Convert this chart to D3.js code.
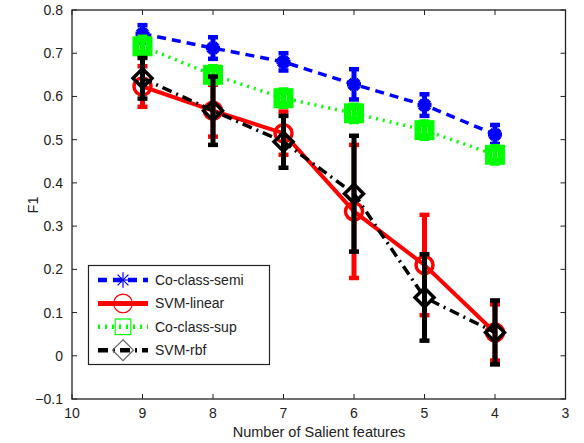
<!DOCTYPE html>
<html>
<head>
<meta charset="utf-8">
<script src="https://cdn.jsdelivr.net/npm/d3@7"></script>
<style>
  body { margin: 0; background: #fff; }
  text { font-family: "Liberation Sans", Arial, sans-serif; fill: #222; }
</style>
</head>
<body>
<svg id="chart" width="584" height="443"></svg>
<script>
// number of salient features (x, reversed axis)
const features = [9, 8, 7, 6, 5, 4]
const xTicks = [10, 9, 8, 7, 6, 5, 4, 3]
const yTicks = [-0.1, 0, 0.1, 0.2, 0.3, 0.4, 0.5, 0.6, 0.7, 0.8]

// F1 means and error half-widths
const coSemi = [0.745, 0.712, 0.680, 0.628, 0.580, 0.512]
const coSemiErr = [0.020, 0.025, 0.020, 0.035, 0.025, 0.022]
const svmLinear = [0.623, 0.567, 0.515, 0.334, 0.210, 0.054]
const svmLinearErr = [0.047, 0.060, 0.050, 0.154, 0.116, 0.065]
const coSup = [0.716, 0.650, 0.596, 0.561, 0.522, 0.465]
const coSupErr = [0.022, 0.020, 0.020, 0.020, 0.020, 0.020]
const svmRbf = [0.642, 0.567, 0.495, 0.375, 0.135, 0.054]
const svmRbfErr = [0.047, 0.079, 0.060, 0.134, 0.100, 0.074]

const series = [
    { name: 'Co-class-semi', values: coSemi, err: coSemiErr, color: '#0000ff', dash: '9,6', marker: 'star' },
    { name: 'SVM-linear', values: svmLinear, err: svmLinearErr, color: '#ff0000', dash: null, marker: 'circle', width: 4 },
    { name: 'Co-class-sup', values: coSup, err: coSupErr, color: '#00ff00', dash: '2,5', marker: 'square' },
    { name: 'SVM-rbf', values: svmRbf, err: svmRbfErr, color: '#000000', dash: '10,5,2,5', marker: 'diamond' },
]

const svg = d3.select('#chart')
const margin = { left: 72, right: 565.5, top: 10, bottom: 399 }

const x = d3.scaleLinear().domain([10, 3]).range([margin.left, margin.right])
const y = d3.scaleLinear().domain([-0.1, 0.8]).range([margin.bottom, margin.top])

// axes box with inward ticks (matlab style)
const box = svg.append('g')
box.append('rect')
    .attr('x', margin.left).attr('y', margin.top)
    .attr('width', margin.right - margin.left).attr('height', margin.bottom - margin.top)
    .attr('fill', 'none').attr('stroke', '#222').attr('stroke-width', 1.3)

xTicks.forEach(t => {
    box.append('line').attr('x1', x(t)).attr('x2', x(t)).attr('y1', margin.bottom).attr('y2', margin.bottom - 5).attr('stroke', '#222')
    box.append('line').attr('x1', x(t)).attr('x2', x(t)).attr('y1', margin.top).attr('y2', margin.top + 5).attr('stroke', '#222')
    box.append('text').attr('x', x(t)).attr('y', 418).attr('text-anchor', 'middle')
        .style('font-size', '14px').text(t)
})
yTicks.forEach(t => {
    box.append('line').attr('x1', margin.left).attr('x2', margin.left + 5).attr('y1', y(t)).attr('y2', y(t)).attr('stroke', '#222')
    box.append('line').attr('x1', margin.right).attr('x2', margin.right - 5).attr('y1', y(t)).attr('y2', y(t)).attr('stroke', '#222')
    const lbl = d3.format('.1~f')(t)
    box.append('text').attr('x', 63).attr('y', y(t) + 5).attr('text-anchor', 'end')
        .style('font-size', '14px').text(lbl === '-0' ? '0' : lbl)
})

svg.append('text').attr('x', 319).attr('y', 437).attr('text-anchor', 'middle')
    .style('font-size', '14.5px').text('Number of Salient features')
svg.append('text').attr('transform', 'translate(38,205) rotate(-90)').attr('text-anchor', 'middle')
    .style('font-size', '14.5px').text('F1')

function drawMarker(g, type, color, w, scale) {
    const s = scale || 1
    if (type === 'star') {
        const r = 7 * s
        ;[0, 45, 90, 135].forEach(a => {
            const dx = r * Math.cos(a * Math.PI / 180), dy = r * Math.sin(a * Math.PI / 180)
            g.append('line').attr('x1', -dx).attr('y1', -dy).attr('x2', dx).attr('y2', dy)
                .attr('stroke', color).attr('stroke-width', w)
        })
    } else if (type === 'circle') {
        g.append('circle').attr('r', 8.5 * s).attr('fill', 'none').attr('stroke', color).attr('stroke-width', w)
    } else if (type === 'square') {
        const h = 6.5 * s
        g.append('rect').attr('x', -h).attr('y', -h).attr('width', 2 * h).attr('height', 2 * h)
            .attr('fill', 'none').attr('stroke', color).attr('stroke-width', w)
    } else if (type === 'diamond') {
        const h = 9.5 * s
        g.append('path').attr('d', `M0,${-h}L${h},0L0,${h}L${-h},0Z`)
            .attr('fill', 'none').attr('stroke', color).attr('stroke-width', w)
    }
}

const markerWidth = { star: 4.5, circle: 3.5, square: 7, diamond: 3.5 }

const plot = svg.append('g')
series.forEach(s => {
    const g = plot.append('g')
    const pts = features.map((f, i) => [x(f), y(s.values[i])])
    g.append('path')
        .attr('d', d3.line()(pts))
        .attr('fill', 'none').attr('stroke', s.color)
        .attr('stroke-width', s.width || 3.5)
        .attr('stroke-dasharray', s.dash)
    // error bars
    features.forEach((f, i) => {
        const cx = x(f)
        const lo = y(s.values[i] - s.err[i]), hi = y(s.values[i] + s.err[i])
        g.append('line').attr('x1', cx).attr('x2', cx).attr('y1', lo).attr('y2', hi)
            .attr('stroke', s.color).attr('stroke-width', 5)
        ;[lo, hi].forEach(yy => {
            g.append('line').attr('x1', cx - 5).attr('x2', cx + 5).attr('y1', yy).attr('y2', yy)
                .attr('stroke', s.color).attr('stroke-width', 4.5)
        })
    })
    pts.forEach(p => {
        const m = g.append('g').attr('transform', `translate(${p[0]},${p[1]})`)
        drawMarker(m, s.marker, s.color, markerWidth[s.marker])
    })
})

// legend
const legend = svg.append('g')
legend.append('rect').attr('x', 88.5).attr('y', 265.5).attr('width', 181).attr('height', 99)
    .attr('fill', '#fff').attr('stroke', '#222').attr('stroke-width', 1.2)
series.forEach((s, i) => {
    const ly = 280 + i * 23.4
    legend.append('line').attr('x1', 98).attr('x2', 148).attr('y1', ly).attr('y2', ly)
        .attr('stroke', s.color).attr('stroke-width', s.width ? 5 : 4.5)
        .attr('stroke-dasharray', s.dash)
    const m = legend.append('g').attr('transform', `translate(123,${ly})`)
    drawMarker(m, s.marker, s.marker === 'diamond' ? '#666' : s.color, 1.2, s.marker === 'square' ? 1.2 : 1.1)
    legend.append('text').attr('x', 155).attr('y', ly + 5).style('font-size', '14px').text(s.name)
})
</script>
</body>
</html>
